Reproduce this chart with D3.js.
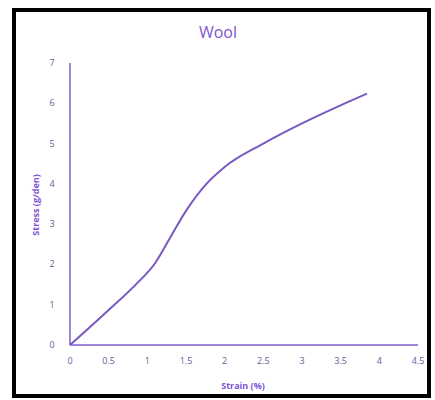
<!DOCTYPE html>
<html>
<head>
<meta charset="utf-8">
<script src="https://cdn.jsdelivr.net/npm/d3@7"></script>
<style>
  body { margin: 0; background: #fff; }
  text { font-family: "Open Sans", "DejaVu Sans", sans-serif; }
</style>
</head>
<body>
<svg id="chart"></svg>
<script>
let strain = [0, 0.5, 0.85, 1.1, 1.3, 1.5, 1.75, 2, 2.5, 3, 3.84]
let stress = [0, 0.87, 1.5, 2.03, 2.68, 3.33, 3.97, 4.42, 5.0, 5.5, 6.24]
let x_ticks = [0, 0.5, 1, 1.5, 2, 2.5, 3, 3.5, 4, 4.5]
let y_ticks = [0, 1, 2, 3, 4, 5, 6, 7]

let purple = "#8060cc"

let svg = d3.select('#chart')
    .attr('width', 435)
    .attr('height', 400)

// outer frame
svg.append("rect")
    .attr("x", 14).attr("y", 10)
    .attr("width", 415).attr("height", 386)
    .attr("fill", "#fff")
    .attr("stroke", "#000")
    .attr("stroke-width", 4)

let x = d3.scaleLinear().domain([0, 4.5]).range([70, 418])
let y = d3.scaleLinear().domain([0, 7]).range([345, 63])

// axes lines
svg.append("line")
    .attr("x1", x(0)).attr("x2", x(4.5))
    .attr("y1", y(0)).attr("y2", y(0))
    .attr("stroke", purple).attr("stroke-width", 1.5)
svg.append("line")
    .attr("x1", x(0)).attr("x2", x(0))
    .attr("y1", y(0)).attr("y2", y(7))
    .attr("stroke", purple).attr("stroke-width", 1.5)

svg.selectAll(".xt")
    .data(x_ticks)
    .enter()
    .append("text")
    .attr("x", function(d){ return x(d) })
    .attr("y", y(0) + 19)
    .attr("text-anchor", "middle")
    .attr("font-size", 9)
    .attr("fill", "#6a5a9a")
    .text(function(d){ return d })

svg.selectAll(".yt")
    .data(y_ticks)
    .enter()
    .append("text")
    .attr("x", 52)
    .attr("y", function(d){ return y(d) + 3 })
    .attr("text-anchor", "middle")
    .attr("font-size", 9)
    .attr("fill", "#6a5a9a")
    .text(function(d){ return d })

let pts = strain.map(function(s, i){ return [s, stress[i]] })
let line = d3.line()
    .x(function(d){ return x(d[0]) })
    .y(function(d){ return y(d[1]) })
    .curve(d3.curveMonotoneX)

svg.append("path")
    .attr("d", line(pts))
    .attr("fill", "none")
    .attr("stroke", "#7a58c4")
    .attr("stroke-width", 2)

svg.append("text")
    .attr("x", 218).attr("y", 38)
    .attr("text-anchor", "middle")
    .attr("font-size", 16)
    .attr("fill", "#7f55d0")
    .text("Wool")

svg.append("text")
    .attr("x", 243).attr("y", 389)
    .attr("text-anchor", "middle")
    .attr("font-size", 9)
    .attr("font-weight", "bold")
    .attr("fill", "#7a55d6")
    .text("Strain (%)")

svg.append("text")
    .attr("transform", "translate(39, 205) rotate(-90)")
    .attr("text-anchor", "middle")
    .attr("font-size", 9)
    .attr("font-weight", "bold")
    .attr("fill", "#7a55d6")
    .text("Stress (g/den)")
</script>
</body>
</html>
